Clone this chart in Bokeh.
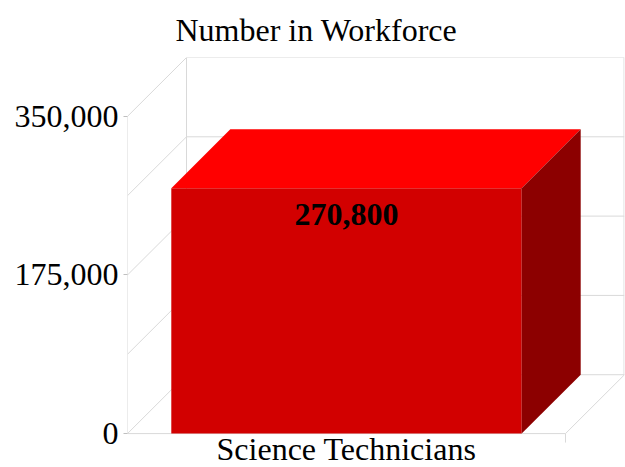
from bokeh.plotting import figure
from bokeh.models import Range1d, FixedTicker, Title
from bokeh.core.properties import value
from bokeh.embed import file_html
from bokeh.resources import INLINE

# ---- data ----
categories = ["Science Technicians"]
values = [270800]
value_labels = ["270,800"]
tick_values = [0, 175000, 350000]
tick_labels = ["0", "175,000", "350,000"]
grid_values = [0, 87500, 175000, 262500, 350000]
title_text = "Number in Workforce"

# ---- geometry / style ----
W, H = 625, 467
LEFT, TOP, RIGHT = 127, 56, 1
FRONT_W_PX = 438      # width of the front plane in px
FRONT_H_PX = 318      # height of 0..YMAX in px
DEPTH_PX = 59         # 3D depth offset
BOTTOM_PAD_PX = 34
YMAX = 350000
FONT = "Liberation Serif"
FS = "32px"
GRID = "#D9D9D9"

upx = YMAX / FRONT_H_PX
dx = DEPTH_PX / FRONT_W_PX
dy = DEPTH_PX * upx

p = figure(width=W, height=H, output_backend="svg", toolbar_location=None,
           x_range=Range1d(0, 1 + dx),
           y_range=Range1d(-BOTTOM_PAD_PX * upx, YMAX + dy),
           x_axis_location=None,
           min_border_left=LEFT, min_border_top=TOP, min_border_right=RIGHT,
           min_border_bottom=0)
p.outline_line_color = None
p.xgrid.visible = False
p.ygrid.visible = False
p.background_fill_color = "white"
p.border_fill_color = "white"

p.title = Title(text=title_text, align="left", offset=48, standoff=19,
                text_font=FONT, text_font_size=FS,
                text_font_style="normal", text_color="black")

# y axis
ya = p.yaxis[0]
ya.ticker = FixedTicker(ticks=tick_values)
ya.major_label_overrides = {v: l for v, l in zip(tick_values, tick_labels)}
ya.major_label_text_font = FONT
ya.major_label_text_font_size = FS
ya.major_label_text_color = "black"
ya.axis_line_color = None
ya.major_tick_line_color = "#BFBFBF"
ya.major_tick_out = 4
ya.major_tick_in = 0
ya.minor_tick_line_color = None
ya.major_label_standoff = 5

# back wall horizontal grid lines
p.segment(x0=[dx] * len(grid_values), y0=[g + dy for g in grid_values],
          x1=[1 + dx] * len(grid_values), y1=[g + dy for g in grid_values],
          line_color=GRID, line_width=1)
# side wall diagonals
p.segment(x0=[0] * len(grid_values), y0=grid_values,
          x1=[dx] * len(grid_values), y1=[g + dy for g in grid_values],
          line_color=GRID, line_width=1)
# verticals: front axis, back-left edge, back-right edge
p.segment(x0=[0, dx, 1 + dx - 0.001], y0=[0, dy, dy],
          x1=[0, dx, 1 + dx - 0.001], y1=[YMAX, YMAX + dy, YMAX + dy],
          line_color=GRID, line_width=1)
# floor
p.segment(x0=[0, 1], y0=[0, 0], x1=[1, 1 + dx], y1=[0, dy],
          line_color=GRID, line_width=1)
# category boundary tick
p.segment(x0=[1], y0=[0], x1=[1], y1=[-9 * upx], line_color=GRID, line_width=1)

# bars
n = len(categories)
bw = 0.8 / n
centers = [(i + 0.5) / n for i in range(n)]
lefts = [c - bw / 2 for c in centers]
rights = [c + bw / 2 for c in centers]

p.quad(left=lefts, right=rights, bottom=[0] * n, top=values,
       fill_color="#D20000", line_color=None)
for l, r, v in zip(lefts, rights, values):
    p.patch(x=[l, r, r + dx, l + dx], y=[v, v, v + dy, v + dy],
            fill_color="#FF0000", line_color=None)
    p.patch(x=[r, r, r + dx, r + dx], y=[0, v, v + dy, dy],
            fill_color="#8C0000", line_color=None)

# value labels
p.text(x=centers, y=values, text=value_labels, text_align="center",
       text_baseline="middle", y_offset=26, text_font=value(FONT),
       text_font_size=FS, text_font_style="bold", text_color="black")

# category labels
p.text(x=centers, y=[0] * n, text=categories, text_align="center",
       text_baseline="bottom", y_offset=33, text_font=value(FONT),
       text_font_size=FS, text_color="black")

open("out.html", "w").write(file_html(p, INLINE))
